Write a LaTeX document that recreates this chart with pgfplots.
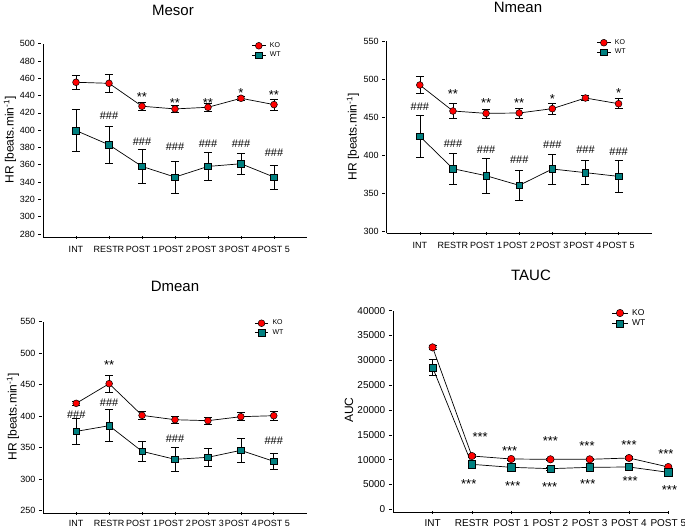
\documentclass[border=0pt]{standalone}
\usepackage{fontspec}
\setmainfont{Liberation Sans}
\usepackage{pgfplots}
\pgfplotsset{compat=1.18}
\definecolor{ko}{RGB}{255,0,0}
\definecolor{wt}{RGB}{0,128,128}

\pgfplotsset{
  panel/.style={
    scale only axis, anchor=south west, clip=false,
    axis lines=left, axis line style={-, line width=0.6pt},
    xmin=-1, xmax=7, xtick={0,...,6},
    xticklabels={INT,RESTR,POST 1,POST 2,POST 3,POST 4,POST 5},
    major tick length=3pt,
    tick style={black, line width=0.6pt},
    ytick style={xshift=-3pt},
    yticklabel style={xshift=-3pt},
    xticklabel style={yshift=-4pt},
    tick label style={font=\fontsize{9}{10}\selectfont},
    /pgf/number format/assume math mode=true,
    legend cell align=left,
    legend style={draw=none, fill=none, font=\fontsize{7}{8}\selectfont,
      anchor=north west, inner sep=0pt, row sep=1pt, column sep=3pt,
      nodes={inner sep=1pt}},
    legend image code/.code={\draw[mark repeat=2,mark phase=2,##1]
      plot coordinates {(0pt,0pt)(6.7pt,0pt)(13.4pt,0pt)};},
    every axis plot/.append style={black, line width=0.7pt},
    error bars/y dir=both, error bars/y explicit,
    error bars/error bar style={black, line width=0.6pt},
    error bars/error mark options={rotate=90, black, mark size=4pt, line width=0.6pt},
  },
  kostyle/.style={mark=*, mark size=3.4pt, mark options={fill=ko, draw=black, line width=0.5pt}},
  wtstyle/.style={mark=square*, mark size=3.3pt, mark options={fill=wt, draw=black, line width=0.5pt}},
}
\tikzset{
  st/.style={font=\fontsize{13}{14}\selectfont, inner sep=0pt, yshift=-2.9pt},
  hs/.style={font=\fontsize{11}{12}\selectfont, inner sep=0pt},
  ttl/.style={font=\fontsize{15}{17}\selectfont},
  yl/.style={font=\fontsize{12}{14}\selectfont, rotate=90},
}

\begin{document}
\begin{tikzpicture}
\path[use as bounding box] (0pt,0pt) rectangle (685pt,-528pt);

% titles and y labels
\node[ttl] at (173pt,-10pt) {Mesor};
\node[ttl] at (518pt,-7pt) {Nmean};
\node[ttl] at (175pt,-286pt) {Dmean};
\node[ttl] at (531pt,-275pt) {TAUC};
\node[yl] at (10pt,-140pt) {HR [beats.min\textsuperscript{-1}]};
\node[yl] at (353pt,-137pt) {HR [beats.min\textsuperscript{-1}]};
\node[yl] at (13pt,-417pt) {HR [beats.min\textsuperscript{-1}]};
\node[yl] at (349pt,-410pt) {AUC};

% Mesor
\begin{axis}[panel, at={(43pt,-237pt)}, width=264pt, height=193.3pt,
  ymin=276.5, ymax=500, ytick={280,300,...,500},
  legend style={at={(axis description cs:0.79,1.012)}}]
\addplot[kostyle] coordinates {
  (0,455.4) +- (0,7.7) (1,454.2) +- (0,10.5) (2,427.7) +- (0,4.8)
  (3,424.6) +- (0,4.2) (4,426.5) +- (0,4.3) (5,436.9) +- (0,2.7)
  (6,429.6) +- (0,6.2)};
\addlegendentry{KO}
\addplot[wtstyle] coordinates {
  (0,399.6) +- (0,24.4) (1,383.1) +- (0,21.9) (2,358.1) +- (0,19.5)
  (3,345.8) +- (0,18.7) (4,358.1) +- (0,16.4) (5,361.2) +- (0,12)
  (6,345.8) +- (0,14)};
\addlegendentry{WT}
\node[st] at (axis cs:2,441.5) {**};
\node[st] at (axis cs:3,434.2) {**};
\node[st] at (axis cs:4,435) {**};
\node[st] at (axis cs:5,445.8) {*};
\node[st] at (axis cs:6,443.5) {**};
\node[hs] at (axis cs:1,416.5) {\#\#\#};
\node[hs] at (axis cs:2,386.9) {\#\#\#};
\node[hs] at (axis cs:3,380.4) {\#\#\#};
\node[hs] at (axis cs:4,384.2) {\#\#\#};
\node[hs] at (axis cs:5,384.2) {\#\#\#};
\node[hs] at (axis cs:6,373.5) {\#\#\#};
\end{axis}

% Nmean
\begin{axis}[panel, at={(386.7pt,-233pt)}, width=265pt, height=192pt,
  ymin=297.4, ymax=550, ytick={300,350,...,550},
  legend style={at={(axis description cs:0.792,1.014)}}]
\addplot[kostyle] coordinates {
  (0,492.1) +- (0,11) (1,457.9) +- (0,10) (2,454.8) +- (0,6)
  (3,455.3) +- (0,6.4) (4,461) +- (0,7.2) (5,475) +- (0,3.5)
  (6,467.5) +- (0,6.5)};
\addlegendentry{KO}
\addplot[wtstyle] coordinates {
  (0,424.6) +- (0,28) (1,382) +- (0,20) (2,372.8) +- (0,23)
  (3,360.1) +- (0,20) (4,381.6) +- (0,19.8) (5,376.8) +- (0,15.6)
  (6,371.9) +- (0,20.6)};
\addlegendentry{WT}
\node[hs] at (axis cs:0,463.6) {\#\#\#};
\node[st] at (axis cs:1,484.2) {**};
\node[st] at (axis cs:2,472.4) {**};
\node[st] at (axis cs:3,472.4) {**};
\node[st] at (axis cs:4,477.6) {*};
\node[st] at (axis cs:6,485.5) {*};
\node[hs] at (axis cs:1,414.5) {\#\#\#};
\node[hs] at (axis cs:2,407.5) {\#\#\#};
\node[hs] at (axis cs:3,393.4) {\#\#\#};
\node[hs] at (axis cs:4,413.2) {\#\#\#};
\node[hs] at (axis cs:5,406.6) {\#\#\#};
\node[hs] at (axis cs:6,404.4) {\#\#\#};
\end{axis}

% Dmean
\begin{axis}[panel, at={(43.3pt,-513pt)}, width=263.4pt, height=191.3pt,
  ymin=246.3, ymax=550, ytick={250,300,...,550},
  xticklabel style={yshift=1.5pt},
  legend style={at={(axis description cs:0.801,1.015)}}]
\addplot[kostyle] coordinates {
  (0,420.4) +- (0,2.5) (1,451.6) +- (0,13.2) (2,401.3) +- (0,5.8)
  (3,394.4) +- (0,5.8) (4,392.9) +- (0,6) (5,399.2) +- (0,6.3)
  (6,400.8) +- (0,6.8)};
\addlegendentry{KO}
\addplot[wtstyle] coordinates {
  (0,375.9) +- (0,20.6) (1,384.9) +- (0,25.4) (2,344.2) +- (0,16.6)
  (3,331.5) +- (0,18.5) (4,334.7) +- (0,13.7) (5,345.8) +- (0,19.5)
  (6,328.3) +- (0,13)};
\addlegendentry{WT}
\node[st] at (axis cs:1,485.4) {**};
\node[hs] at (axis cs:0,401.9) {\#\#\#};
\node[hs] at (axis cs:1,420.9) {\#\#\#};
\node[hs] at (axis cs:3,363.8) {\#\#\#};
\node[hs] at (axis cs:6,360.6) {\#\#\#};
\end{axis}

% TAUC
\begin{axis}[panel, at={(393.3pt,-512pt)}, width=275pt, height=201.3pt,
  xmax=6, ymin=-544, ymax=40000, ytick={0,5000,...,40000},
  scaled y ticks=false, /pgf/number format/1000 sep={},
  tick label style={font=\fontsize{10}{11}\selectfont},
  xticklabel style={yshift=1.5pt},
  kostyle/.append style={mark size=3.7pt},
  wtstyle/.append style={mark size=3.6pt},
  legend style={at={(axis description cs:0.794,1.013)}, font=\fontsize{8.5}{9}\selectfont},
  legend image code/.code={\draw[mark repeat=2,mark phase=2,#1]
      plot coordinates {(0pt,0pt)(7.8pt,0pt)(15.6pt,0pt)};}]
\addplot[kostyle] coordinates {
  (0,32617) +- (0,400) (1,10738) +- (0,250) (2,10134) +- (0,200)
  (3,10067) +- (0,200) (4,10067) +- (0,200) (5,10336) +- (0,250)
  (6,8523) +- (0,200)};
\addlegendentry{KO}
\addplot[wtstyle] coordinates {
  (0,28591) +- (0,1600) (1,9060) +- (0,300) (2,8456) +- (0,250)
  (3,8188) +- (0,250) (4,8456) +- (0,250) (5,8523) +- (0,300)
  (6,7450) +- (0,250)};
\addlegendentry{WT}
\node[st] at (axis cs:1.21,15100) {***};
\node[st] at (axis cs:1.96,12416) {***};
\node[st] at (axis cs:3,14295) {***};
\node[st] at (axis cs:3.93,13289) {***};
\node[st] at (axis cs:5,13624) {***};
\node[st] at (axis cs:5.94,11812) {***};
\node[st] at (axis cs:0.92,5705) {***};
\node[st] at (axis cs:2.04,5235) {***};
\node[st] at (axis cs:2.98,5101) {***};
\node[st] at (axis cs:3.95,5705) {***};
\node[st] at (axis cs:5.03,6376) {***};
\node[st] at (axis cs:6.03,4430) {***};
\end{axis}
\end{tikzpicture}
\end{document}
